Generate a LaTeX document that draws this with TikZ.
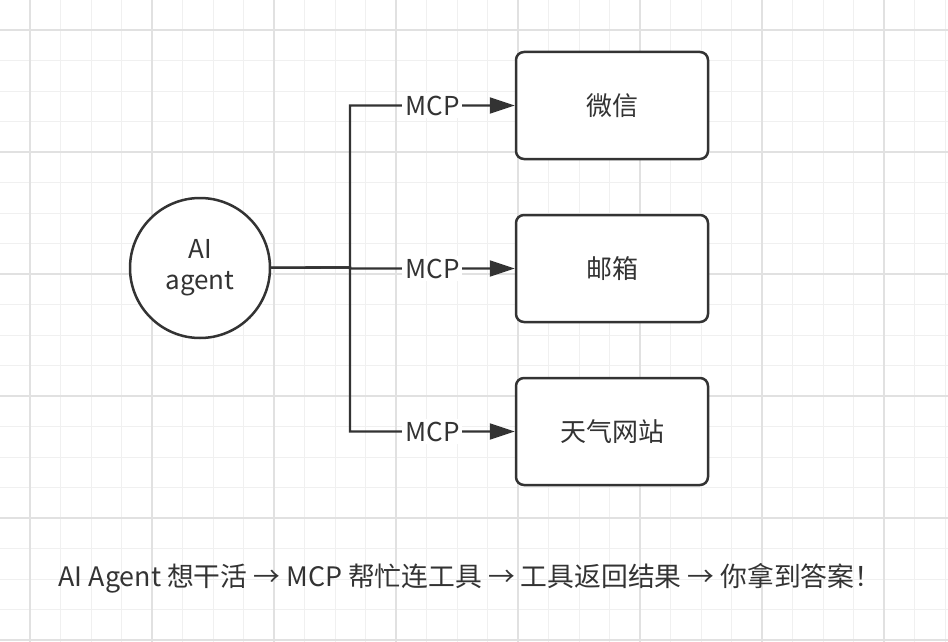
\documentclass[tikz,border=0pt]{standalone}
\usepackage{fontspec}
\setmainfont{Noto Sans CJK SC}
\usetikzlibrary{arrows.meta,positioning}
\definecolor{ink}{HTML}{333333}
\definecolor{gridminor}{HTML}{F0F0F0}
\definecolor{gridmajor}{HTML}{E1E1E1}

\begin{document}
\begin{tikzpicture}[x=1pt,y=-1pt,
    every node/.style={font=\fontsize{26}{31}\selectfont, text=ink},
    tool/.style={draw=ink, line width=2.5pt, rounded corners=8pt,
        minimum width=192pt, minimum height=107pt},
    conn/.style={draw=ink, line width=2.3pt, -{Triangle[length=25pt,width=16pt]}},
    mcp/.style={fill=white, inner sep=3pt}]
    \useasboundingbox (0,0) rectangle (948,642);
    % grid
    \foreach \k in {0,...,31}
        \draw[gridminor, line width=1pt] (-0.5+30.5*\k,0) -- (-0.5+30.5*\k,642);
    \foreach \k in {0,...,21}
        \draw[gridminor, line width=1pt] (0,-0.5+30.5*\k) -- (948,-0.5+30.5*\k);
    \foreach \k in {1,5,...,29}
        \draw[gridmajor, line width=1.5pt] (-0.5+30.5*\k,0) -- (-0.5+30.5*\k,642);
    \foreach \k in {1,5,...,21}
        \draw[gridmajor, line width=1.5pt] (0,-0.5+30.5*\k) -- (948,-0.5+30.5*\k);

    \node[circle, draw=ink, line width=2.5pt, fill=white, minimum size=140pt,
        align=center] (agent) at (200,268) {AI\\agent};
    \node[tool, fill=white] (wx) at (612,105.5) {微信};
    \node[tool, fill=white, below=53.5pt of wx] (mail) {邮箱};
    \node[tool, fill=white, below=53.5pt of mail] (weather) {天气网站};
    \coordinate (fork) at (350,267.5);

    \foreach \t in {wx,mail,weather}
        \draw[conn] (agent) -- (fork) |- node[mcp, pos=0.75]{MCP} (\t);

    \node[font=\fontsize{26.8}{31}\selectfont] (summary) at (470,578)
        {AI Agent 想干活 → MCP 帮忙连工具 → 工具返回结果 → 你拿到答案！};
\end{tikzpicture}
\end{document}
